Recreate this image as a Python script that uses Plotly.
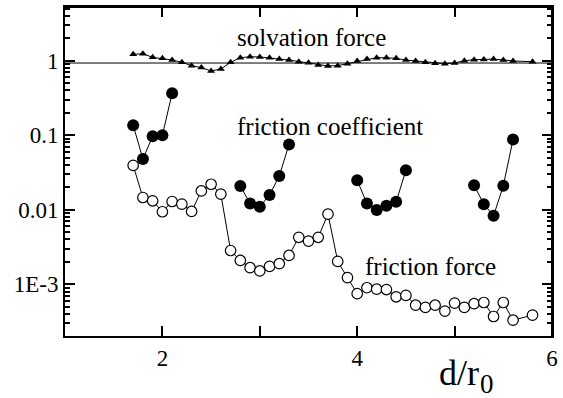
import plotly.graph_objects as go

# Separation d/r0 for the solvation-force and friction-force series
d_values = [1.7, 1.8, 1.9, 2.0, 2.1, 2.2, 2.3, 2.4, 2.5, 2.6,
            2.7, 2.8, 2.9, 3.0, 3.1, 3.2, 3.3, 3.4, 3.5, 3.6,
            3.7, 3.8, 3.9, 4.0, 4.1, 4.2, 4.3, 4.4, 4.5, 4.6,
            4.7, 4.8, 4.9, 5.0, 5.1, 5.2, 5.3, 5.4, 5.5, 5.6, 5.8]

solvation_force = [1.215, 1.24, 1.108, 1.074, 1.02, 0.95, 0.858, 0.807, 0.728, 0.774,
                   0.95, 1.096, 1.13, 1.12, 1.096, 1.05, 1.02, 0.97, 0.94, 0.875,
                   0.849, 0.858, 0.912, 0.99, 1.05, 1.096, 1.096, 1.074, 1.02, 0.99,
                   0.95, 0.921, 0.912, 0.931, 1.0, 1.03, 1.04, 1.05, 1.02, 0.99, 0.97]

friction_force = [0.0394, 0.0146, 0.0132, 0.0094, 0.0129, 0.0119, 0.0095, 0.0179, 0.022, 0.0162,
                  0.00284, 0.00209, 0.00167, 0.00151, 0.00174, 0.00189, 0.00244, 0.00427, 0.0038, 0.00427,
                  0.00875, 0.00203, 0.00123, 0.00075, 0.0009, 0.00086, 0.00085, 0.00068, 0.00071, 0.000525,
                  0.00049, 0.000525, 0.000437, 0.00056, 0.00049, 0.00055, 0.00057, 0.00037, 0.00057, 0.00033,
                  0.000386]

# Friction coefficient, measured in four separate branches
coef_d_1 = [1.7, 1.8, 1.9, 2.0, 2.1]
coef_1 = [0.136, 0.048, 0.097, 0.100, 0.366]
coef_d_2 = [2.8, 2.9, 3.0, 3.1, 3.2, 3.3]
coef_2 = [0.0209, 0.0121, 0.0110, 0.0158, 0.0284, 0.0752]
coef_d_3 = [4.0, 4.1, 4.2, 4.3, 4.4, 4.5]
coef_3 = [0.0249, 0.0121, 0.0099, 0.0113, 0.0128, 0.0338]
coef_d_4 = [5.2, 5.3, 5.4, 5.5, 5.6]
coef_4 = [0.0213, 0.0119, 0.0083, 0.0210, 0.0877]

# Reference level for the solvation force
solvation_ref = 0.93

x_range = [1, 6]
x_tickvals = [2, 3, 4, 5, 6]
x_ticktext = ["2", "", "4", "", "6"]
y_tickvals = [1e-3, 1e-2, 1e-1, 1]
y_ticktext = ["1E-3", "0.01", "0.1", "1"]

SERIF = "Liberation Serif, DejaVu Serif, serif"
LINE = dict(color="black", width=1)

fig = go.Figure()

fig.add_trace(go.Scatter(x=x_range, y=[solvation_ref, solvation_ref], mode="lines",
                         line=LINE, hoverinfo="skip"))

fig.add_trace(go.Scatter(x=d_values, y=solvation_force, mode="lines+markers",
                         line=LINE,
                         marker=dict(symbol="triangle-up", size=7, color="black")))

fig.add_trace(go.Scatter(x=d_values, y=friction_force, mode="lines+markers",
                         line=LINE,
                         marker=dict(symbol="circle", size=10.5, color="white",
                                     line=dict(color="black", width=1.2))))

for xs, ys in [(coef_d_1, coef_1), (coef_d_2, coef_2), (coef_d_3, coef_3), (coef_d_4, coef_4)]:
    fig.add_trace(go.Scatter(x=xs, y=ys, mode="lines+markers", line=LINE,
                             marker=dict(symbol="circle", size=12, color="black")))

axis_common = dict(ticks="inside", ticklen=10, tickwidth=2, tickcolor="black",
                   showline=True, linewidth=2, linecolor="black", mirror="allticks",
                   showgrid=False, zeroline=False,
                   tickfont=dict(family=SERIF, size=23, color="black"))

fig.update_layout(
    width=563, height=398,
    margin=dict(l=65, r=5, t=5, b=62),
    paper_bgcolor="white", plot_bgcolor="white",
    showlegend=False,
    font=dict(family=SERIF, color="black"),
    xaxis=dict(range=x_range, tickmode="array", tickvals=x_tickvals, ticktext=x_ticktext,
               **axis_common),
    yaxis=dict(type="log", range=[0.72 - 331 / 75, 0.72],
               tickmode="array", tickvals=y_tickvals, ticktext=y_ticktext,
               minor=dict(dtick="D1", ticks="inside", ticklen=5,
                          tickwidth=1.5, tickcolor="black", showgrid=False),
               **axis_common),
)

# Top and right edges of the frame
fig.add_shape(type="line", xref="paper", yref="paper", x0=0, x1=1, y0=1, y1=1,
              line=dict(color="black", width=2))
fig.add_shape(type="line", xref="paper", yref="paper", x0=1, x1=1, y0=0, y1=1,
              line=dict(color="black", width=2))

label_font = dict(family=SERIF, size=25, color="black")
fig.add_annotation(text="solvation force", xref="paper", yref="paper", x=0.507, y=0.906,
                   xanchor="center", yanchor="middle", showarrow=False, font=label_font)
fig.add_annotation(text="friction coefficient", xref="paper", yref="paper", x=0.5436, y=0.637,
                   xanchor="center", yanchor="middle", showarrow=False, font=label_font)
fig.add_annotation(text="friction force", xref="paper", yref="paper", x=0.7515, y=0.211,
                   xanchor="center", yanchor="middle", showarrow=False, font=label_font)

fig.add_annotation(text="d/r", xref="paper", yref="paper", x=0.764, y=-0.112,
                   xanchor="left", yanchor="middle", showarrow=False,
                   font=dict(family=SERIF, size=36, color="black"))
fig.add_annotation(text="0", xref="paper", yref="paper", x=0.849, y=-0.145,
                   xanchor="left", yanchor="middle", showarrow=False,
                   font=dict(family=SERIF, size=27, color="black"))

fig.write_html("out.html")
